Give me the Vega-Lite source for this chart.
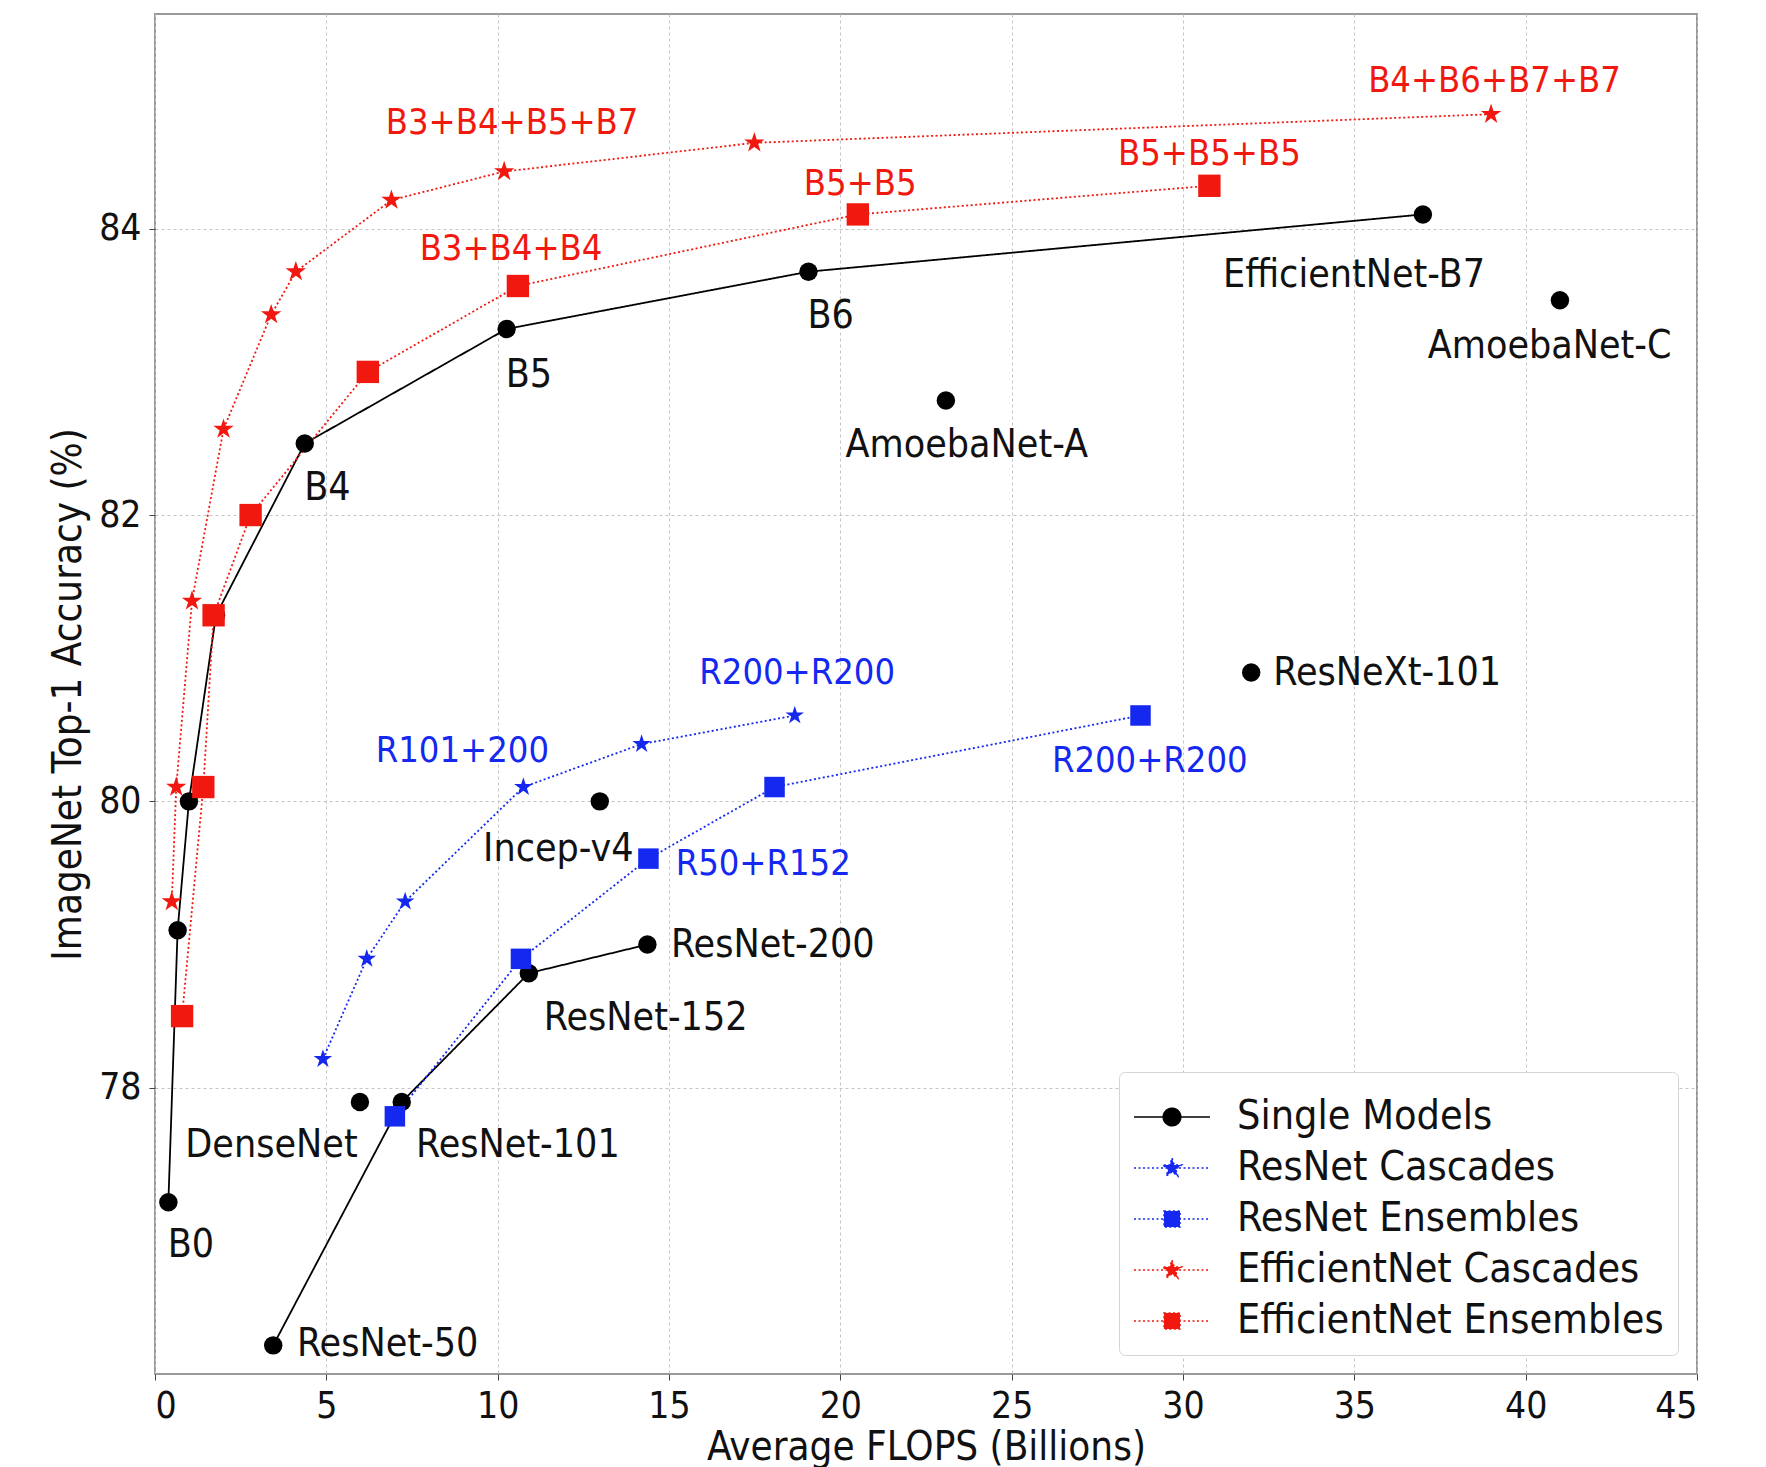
{
  "$schema": "https://vega.github.io/schema/vega-lite/v6.json",
  "width": 1542,
  "height": 1360,
  "autosize": {"type": "none"},
  "padding": {"left": 155, "top": 14, "right": 69, "bottom": 93},
  "background": "white",
  "config": {
    "font": "DejaVu Sans Condensed, DejaVu Sans",
    "view": {"stroke": "#9a9a9a", "strokeWidth": 2},
    "axis": {
      "labelFontSize": 37,
      "labelColor": "#111111",
      "titleFontSize": 40,
      "titleFontWeight": "normal",
      "titleColor": "#111111",
      "gridColor": "#c4c4c4",
      "gridDash": [3, 3],
      "gridWidth": 1,
      "tickColor": "#444444",
      "tickSize": 6,
      "labelPadding": 8,
      "domain": false
    }
  },
  "resolve": {
    "scale": {"shape": "independent"},
    "legend": {"color": "independent", "fill": "independent", "stroke": "independent", "shape": "independent", "strokeDash": "independent", "size": "independent"}
  },
  "datasets": {
    "points": [
      {"series": "Single Models", "model": "B0", "flops": 0.39, "acc": 77.2, "line": "eff"},
      {"series": "Single Models", "model": "B1", "flops": 0.66, "acc": 79.1, "line": "eff"},
      {"series": "Single Models", "model": "B2", "flops": 0.99, "acc": 80.0, "line": "eff"},
      {"series": "Single Models", "model": "B3", "flops": 1.78, "acc": 81.3, "line": "eff"},
      {"series": "Single Models", "model": "B4", "flops": 4.37, "acc": 82.5, "line": "eff"},
      {"series": "Single Models", "model": "B5", "flops": 10.26, "acc": 83.3, "line": "eff"},
      {"series": "Single Models", "model": "B6", "flops": 19.07, "acc": 83.7, "line": "eff"},
      {"series": "Single Models", "model": "B7", "flops": 37.0, "acc": 84.1, "line": "eff"},
      {"series": "Single Models", "model": "ResNet-50", "flops": 3.45, "acc": 76.2, "line": "res"},
      {"series": "Single Models", "model": "ResNet-101", "flops": 7.2, "acc": 77.9, "line": "res"},
      {"series": "Single Models", "model": "ResNet-152", "flops": 10.91, "acc": 78.8, "line": "res"},
      {"series": "Single Models", "model": "ResNet-200", "flops": 14.37, "acc": 79.0, "line": "res"},
      {"series": "Single Models", "model": "DenseNet", "flops": 5.98, "acc": 77.9, "line": null},
      {"series": "Single Models", "model": "Incep-v4", "flops": 12.98, "acc": 80.0, "line": null},
      {"series": "Single Models", "model": "AmoebaNet-A", "flops": 23.08, "acc": 82.8, "line": null},
      {"series": "Single Models", "model": "AmoebaNet-C", "flops": 41.0, "acc": 83.5, "line": null},
      {"series": "Single Models", "model": "ResNeXt-101", "flops": 31.99, "acc": 80.9, "line": null},
      {"series": "ResNet Cascades", "model": "c1", "flops": 4.9, "acc": 78.2, "line": "rc"},
      {"series": "ResNet Cascades", "model": "c2", "flops": 6.18, "acc": 78.9, "line": "rc"},
      {"series": "ResNet Cascades", "model": "c3", "flops": 7.3, "acc": 79.3, "line": "rc"},
      {"series": "ResNet Cascades", "model": "c4", "flops": 10.75, "acc": 80.1, "line": "rc"},
      {"series": "ResNet Cascades", "model": "c5", "flops": 14.2, "acc": 80.4, "line": "rc"},
      {"series": "ResNet Cascades", "model": "c6", "flops": 18.67, "acc": 80.6, "line": "rc"},
      {"series": "ResNet Ensembles", "model": "e1", "flops": 7.0, "acc": 77.8, "line": "re"},
      {"series": "ResNet Ensembles", "model": "e2", "flops": 10.68, "acc": 78.9, "line": "re"},
      {"series": "ResNet Ensembles", "model": "e3", "flops": 14.4, "acc": 79.6, "line": "re"},
      {"series": "ResNet Ensembles", "model": "e4", "flops": 18.08, "acc": 80.1, "line": "re"},
      {"series": "ResNet Ensembles", "model": "e5", "flops": 28.76, "acc": 80.6, "line": "re"},
      {"series": "EfficientNet Cascades", "model": "c1", "flops": 0.49, "acc": 79.3, "line": "ec"},
      {"series": "EfficientNet Cascades", "model": "c2", "flops": 0.62, "acc": 80.1, "line": "ec"},
      {"series": "EfficientNet Cascades", "model": "c3", "flops": 1.08, "acc": 81.4, "line": "ec"},
      {"series": "EfficientNet Cascades", "model": "c4", "flops": 2.0, "acc": 82.6, "line": "ec"},
      {"series": "EfficientNet Cascades", "model": "c5", "flops": 3.39, "acc": 83.4, "line": "ec"},
      {"series": "EfficientNet Cascades", "model": "c6", "flops": 4.11, "acc": 83.7, "line": "ec"},
      {"series": "EfficientNet Cascades", "model": "c7", "flops": 6.9, "acc": 84.2, "line": "ec"},
      {"series": "EfficientNet Cascades", "model": "c8", "flops": 10.19, "acc": 84.4, "line": "ec"},
      {"series": "EfficientNet Cascades", "model": "c9", "flops": 17.49, "acc": 84.6, "line": "ec"},
      {"series": "EfficientNet Cascades", "model": "c10", "flops": 38.99, "acc": 84.8, "line": "ec"},
      {"series": "EfficientNet Ensembles", "model": "e1", "flops": 0.79, "acc": 78.5, "line": "ee"},
      {"series": "EfficientNet Ensembles", "model": "e2", "flops": 1.41, "acc": 80.1, "line": "ee"},
      {"series": "EfficientNet Ensembles", "model": "e3", "flops": 1.71, "acc": 81.3, "line": "ee"},
      {"series": "EfficientNet Ensembles", "model": "e4", "flops": 2.79, "acc": 82.0, "line": "ee"},
      {"series": "EfficientNet Ensembles", "model": "e5", "flops": 6.21, "acc": 83.0, "line": "ee"},
      {"series": "EfficientNet Ensembles", "model": "e6", "flops": 10.59, "acc": 83.6, "line": "ee"},
      {"series": "EfficientNet Ensembles", "model": "e7", "flops": 20.51, "acc": 84.1, "line": "ee"},
      {"series": "EfficientNet Ensembles", "model": "e8", "flops": 30.77, "acc": 84.3, "line": "ee"}
    ],
    "labels": [
      {"text": "B3+B4+B5+B7", "series": "EfficientNet Cascades", "x": 10.42, "y": 84.74},
      {"text": "B4+B6+B7+B7", "series": "EfficientNet Cascades", "x": 39.09, "y": 85.03},
      {"text": "B5+B5+B5", "series": "EfficientNet Ensembles", "x": 30.77, "y": 84.52},
      {"text": "B5+B5", "series": "EfficientNet Ensembles", "x": 20.58, "y": 84.31},
      {"text": "B3+B4+B4", "series": "EfficientNet Ensembles", "x": 10.39, "y": 83.86},
      {"text": "R200+R200", "series": "ResNet Cascades", "x": 18.74, "y": 80.9},
      {"text": "R101+200", "series": "ResNet Cascades", "x": 8.97, "y": 80.35},
      {"text": "R50+R152", "series": "ResNet Ensembles", "x": 17.75, "y": 79.56},
      {"text": "R200+R200", "series": "ResNet Ensembles", "x": 29.03, "y": 80.28},
      {"text": "B0", "series": "Single Models", "x": 1.05, "y": 76.9},
      {"text": "B4", "series": "Single Models", "x": 5.03, "y": 82.19},
      {"text": "B5", "series": "Single Models", "x": 10.91, "y": 82.98},
      {"text": "B6", "series": "Single Models", "x": 19.72, "y": 83.39},
      {"text": "EfficientNet-B7", "series": "Single Models", "x": 34.99, "y": 83.68},
      {"text": "AmoebaNet-C", "series": "Single Models", "x": 40.7, "y": 83.18},
      {"text": "AmoebaNet-A", "series": "Single Models", "x": 23.69, "y": 82.49},
      {"text": "ResNeXt-101", "series": "Single Models", "x": 35.96, "y": 80.9},
      {"text": "Incep-v4", "series": "Single Models", "x": 11.77, "y": 79.67},
      {"text": "ResNet-200", "series": "Single Models", "x": 18.03, "y": 79.0},
      {"text": "ResNet-152", "series": "Single Models", "x": 14.32, "y": 78.49},
      {"text": "ResNet-101", "series": "Single Models", "x": 10.59, "y": 77.6},
      {"text": "DenseNet", "series": "Single Models", "x": 3.4, "y": 77.6},
      {"text": "ResNet-50", "series": "Single Models", "x": 6.79, "y": 76.21}
    ]
  },
  "layer": [
    {
      "data": {"name": "points"},
      "transform": [{"filter": "datum.line != null"}],
      "mark": {"type": "line", "strokeWidth": 1.8},
      "encoding": {
        "x": {"field": "flops", "type": "quantitative", "scale": {"domain": [0, 45], "nice": false, "zero": false},
              "axis": {"values": [0, 5, 10, 15, 20, 25, 30, 35, 40, 45], "format": "d", "title": "Average FLOPS (Billions)", "titlePadding": 3}},
        "y": {"field": "acc", "type": "quantitative", "scale": {"domain": [76, 85.5], "nice": false, "zero": false},
              "axis": {"values": [78, 80, 82, 84], "format": "d", "title": "ImageNet Top-1 Accuracy (%)", "titlePadding": 10}},
        "detail": {"field": "line"},
        "color": {"field": "series", "type": "nominal", "legend": null,
                  "scale": {"domain": ["Single Models", "ResNet Cascades", "ResNet Ensembles", "EfficientNet Cascades", "EfficientNet Ensembles"],
                            "range": ["#000000", "#1428f0", "#1428f0", "#f0180f", "#f0180f"]}},
        "strokeDash": {"field": "series", "type": "nominal", "legend": null,
                       "scale": {"domain": ["Single Models", "ResNet Cascades", "ResNet Ensembles", "EfficientNet Cascades", "EfficientNet Ensembles"],
                                 "range": [[1, 0], [2, 2.5], [2, 2.5], [2, 2.5], [2, 2.5]]}}
      }
    },
    {
      "data": {"name": "points"},
      "mark": {"type": "point", "filled": true, "opacity": 1},
      "encoding": {
        "x": {"field": "flops", "type": "quantitative"},
        "y": {"field": "acc", "type": "quantitative"},
        "shape": {"field": "series", "type": "nominal", "legend": null,
                  "scale": {"domain": ["Single Models", "ResNet Cascades", "ResNet Ensembles", "EfficientNet Cascades", "EfficientNet Ensembles"],
                            "range": ["circle",
                                      "M0,-1L0.2245,-0.309L0.9511,-0.309L0.3633,0.118L0.5878,0.809L0,0.382L-0.5878,0.809L-0.3633,0.118L-0.9511,-0.309L-0.2245,-0.309Z",
                                      "square",
                                      "M0,-1L0.2245,-0.309L0.9511,-0.309L0.3633,0.118L0.5878,0.809L0,0.382L-0.5878,0.809L-0.3633,0.118L-0.9511,-0.309L-0.2245,-0.309Z",
                                      "square"]}},
        "size": {"field": "series", "type": "nominal", "legend": null,
                 "scale": {"domain": ["Single Models", "ResNet Cascades", "ResNet Ensembles", "EfficientNet Cascades", "EfficientNet Ensembles"],
                           "range": [340, 500, 310, 500, 310]}},
        "color": {"field": "series", "type": "nominal", "legend": null}
      }
    },
    {
      "data": {"name": "points"},
      "transform": [{"filter": "datum.flops < 0"}],
      "mark": {"type": "point", "filled": true, "opacity": 1, "strokeWidth": 1.6},
      "encoding": {
        "x": {"field": "flops", "type": "quantitative"},
        "y": {"field": "acc", "type": "quantitative"},
        "fill": {"field": "series", "type": "nominal",
                 "scale": {"domain": ["Single Models", "ResNet Cascades", "ResNet Ensembles", "EfficientNet Cascades", "EfficientNet Ensembles"],
                           "range": ["#000000", "#1428f0", "#1428f0", "#f0180f", "#f0180f"]},
                 "legend": {
                   "title": null,
                   "orient": "bottom-right",
                   "offset": 19,
                   "padding": 14,
                   "fillColor": "white",
                   "strokeColor": "#d4d4d4",
                   "cornerRadius": 6,
                   "symbolSize": 3600,
                   "symbolStrokeWidth": 1.6,
                   "symbolOpacity": 1,
                   "labelFontSize": 41,
                   "labelOffset": 42,
                   "labelColor": "#111111",
                   "labelLimit": 1000,
                   "rowPadding": -3
                 }},
        "stroke": {"field": "series", "type": "nominal",
                   "scale": {"domain": ["Single Models", "ResNet Cascades", "ResNet Ensembles", "EfficientNet Cascades", "EfficientNet Ensembles"],
                             "range": ["#000000", "#1428f0", "#1428f0", "#f0180f", "#f0180f"]},
                   "legend": {"title": null}},
        "strokeDash": {"field": "series", "type": "nominal", "legend": {"title": null}},
        "shape": {"field": "series", "type": "nominal", "legend": {"title": null},
                  "scale": {"domain": ["Single Models", "ResNet Cascades", "ResNet Ensembles", "EfficientNet Cascades", "EfficientNet Ensembles"],
                            "range": ["M-1,0L1.533,0M0.558,0A0.291,0.291 0 1 1 -0.024,0A0.291,0.291 0 1 1 0.558,0Z",
                                      "M-1,0L1.533,0M0.267,-0.329L0.3409,-0.1017L0.5799,-0.1017L0.3865,0.0388L0.4604,0.2662L0.267,0.1257L0.0736,0.2662L0.1475,0.0388L-0.0459,-0.1017L0.1931,-0.1017Z",
                                      "M-1,0L1.533,0M0.001,-0.266L0.533,-0.266L0.533,0.266L0.001,0.266Z",
                                      "M-1,0L1.533,0M0.267,-0.329L0.3409,-0.1017L0.5799,-0.1017L0.3865,0.0388L0.4604,0.2662L0.267,0.1257L0.0736,0.2662L0.1475,0.0388L-0.0459,-0.1017L0.1931,-0.1017Z",
                                      "M-1,0L1.533,0M0.001,-0.266L0.533,-0.266L0.533,0.266L0.001,0.266Z"]}}
      }
    },
    {
      "data": {"name": "labels"},
      "transform": [{"filter": "datum.series != 'Single Models'"}],
      "mark": {"type": "text", "fontSize": 36, "align": "center", "baseline": "middle"},
      "encoding": {
        "x": {"field": "x", "type": "quantitative"},
        "y": {"field": "y", "type": "quantitative"},
        "text": {"field": "text"},
        "color": {"field": "series", "type": "nominal", "legend": null}
      }
    },
    {
      "data": {"name": "labels"},
      "transform": [{"filter": "datum.series == 'Single Models'"}],
      "mark": {"type": "text", "fontSize": 39, "align": "center", "baseline": "middle", "color": "#111111"},
      "encoding": {
        "x": {"field": "x", "type": "quantitative"},
        "y": {"field": "y", "type": "quantitative"},
        "text": {"field": "text"}
      }
    }
  ]
}
